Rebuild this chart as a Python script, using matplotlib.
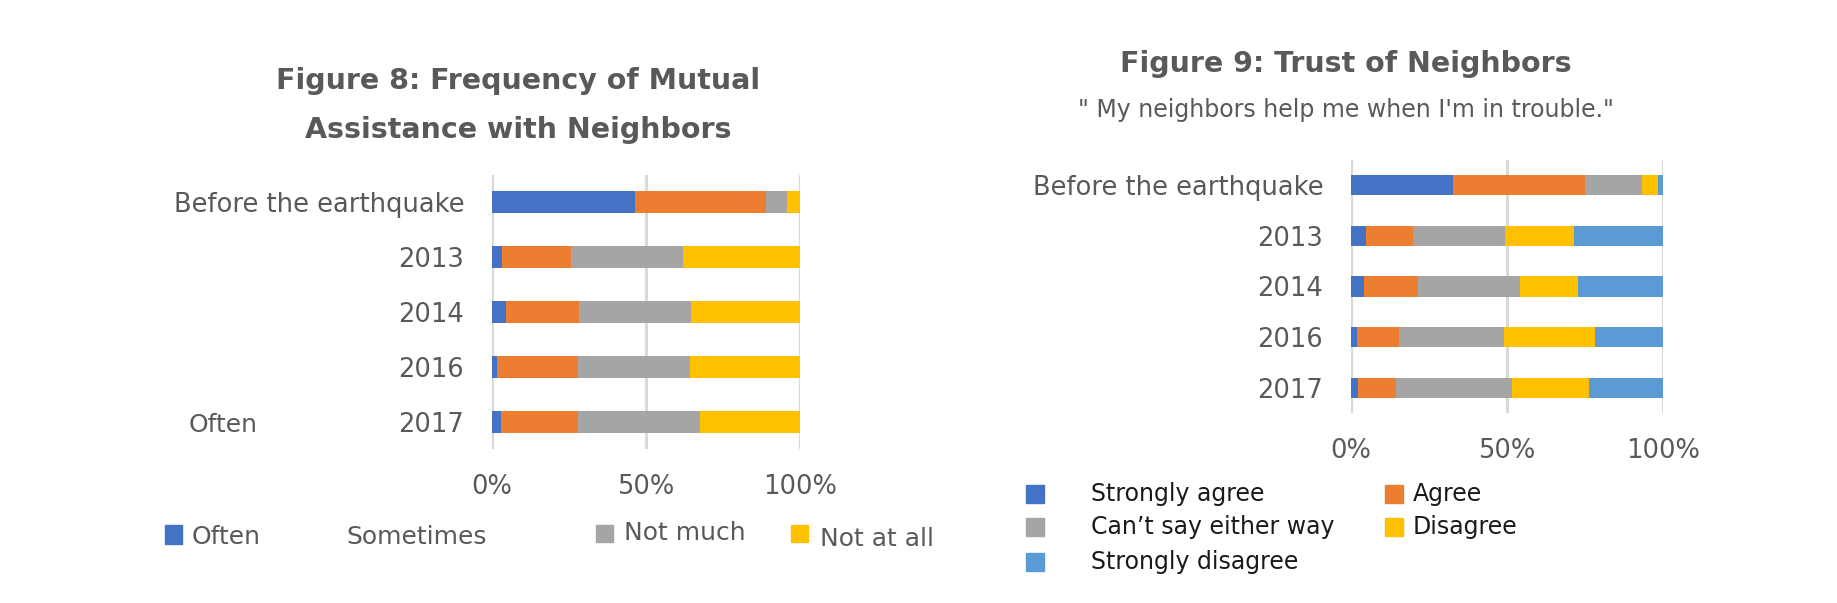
import matplotlib
matplotlib.use("Agg")
import matplotlib.pyplot as plt
from matplotlib.patches import Rectangle

W, H = 1837, 603

# data
years = ["Before the earthquake", "2013", "2014", "2016", "2017"]

# Figure 8
often = [46.3, 3.1, 4.4, 1.7, 2.8]
sometimes = [42.7, 22.4, 23.7, 26.1, 25.0]
not_much = [6.8, 36.6, 36.4, 36.5, 39.7]
not_at_all = [4.2, 37.9, 35.5, 35.7, 32.5]
fig8_names = ["Often", "Sometimes", "Not much", "Not at all"]

# Figure 9
strongly_agree = [32.6, 4.9, 4.3, 1.9, 2.2]
agree = [42.4, 15.1, 17.1, 13.6, 12.1]
cant_say = [18.4, 29.5, 32.8, 33.5, 37.3]
disagree = [4.9, 21.9, 18.6, 29.2, 24.7]
strongly_disagree = [1.7, 28.6, 27.2, 21.8, 23.7]
fig9_names = ["Strongly agree", "Agree", "Can\u2019t say either way", "Disagree",
              "Strongly disagree"]

colors = ["#4472C4", "#ED7D31", "#A5A5A5", "#FFC000", "#5B9BD5"]
txt = "#595959"

plt.rcParams['font.family'] = ['DejaVu Sans']


def box(x0, x1, top, bottom):
    return [x0 / W, 1 - bottom / H, (x1 - x0) / W, (bottom - top) / H]


def fx(x):
    return x / W


def fy(y):
    return 1 - y / H


def stacked(ax, series):
    left = [0] * len(years)
    pos = list(range(len(years)))
    for vals, c in zip(series, colors):
        ax.barh(pos, vals, left=left, height=0.4, color=c, zorder=2)
        left = [a + b for a, b in zip(left, vals)]
    ax.set_xlim(0, 100)
    ax.set_ylim(4.5, -0.5)
    ax.set_yticks(pos)
    ax.set_yticklabels(years, fontsize=18.5, color=txt)
    ax.set_xticks([0, 50, 100])
    ax.set_xticklabels(["0%", "50%", "100%"], fontsize=18.5, color=txt)
    ax.tick_params(axis="y", length=0, pad=20)
    ax.tick_params(axis="x", length=0, pad=18)
    for s in ax.spines.values():
        s.set_visible(False)
    ax.grid(axis="x", color="#D9D9D9", linewidth=2.2, zorder=0)
    ax.set_axisbelow(True)


fig = plt.figure(figsize=(W / 100, H / 100), dpi=100)

# ---- Figure 8
ax1 = fig.add_axes(box(492, 800, 175, 449))
stacked(ax1, [often, sometimes, not_much, not_at_all])
fig.text(fx(518), fy(81), "Figure 8: Frequency of Mutual", ha="center", va="center",
         fontsize=20.5, fontweight="bold", color=txt)
fig.text(fx(518), fy(130), "Assistance with Neighbors", ha="center", va="center",
         fontsize=20.5, fontweight="bold", color=txt)
fig.text(fx(189), fy(425), "Often", ha="left", va="center", fontsize=18, color=txt)

# legend of figure 8 (irregular, as in the original)
fig.patches.append(Rectangle((fx(165), fy(544)), 17 / W, 19 / H, color=colors[0],
                             transform=fig.transFigure, figure=fig))
fig.text(fx(192), fy(537), fig8_names[0], va="center", fontsize=18, color=txt)
fig.text(fx(346), fy(537), fig8_names[1], va="center", fontsize=18, color=txt)
fig.patches.append(Rectangle((fx(596), fy(542)), 17 / W, 17 / H, color=colors[2],
                             transform=fig.transFigure, figure=fig))
fig.text(fx(624), fy(533), fig8_names[2], va="center", fontsize=18, color=txt)
fig.patches.append(Rectangle((fx(791), fy(542)), 17 / W, 17 / H, color=colors[3],
                             transform=fig.transFigure, figure=fig))
fig.text(fx(820), fy(539), fig8_names[3], va="center", fontsize=18, color=txt)

# ---- Figure 9
ax2 = fig.add_axes(box(1351, 1663, 160, 413))
stacked(ax2, [strongly_agree, agree, cant_say, disagree, strongly_disagree])
fig.text(fx(1346), fy(64), "Figure 9: Trust of Neighbors", ha="center", va="center",
         fontsize=20.5, fontweight="bold", color=txt)
fig.text(fx(1346), fy(110), "\" My neighbors help me when I'm in trouble.\"",
         ha="center", va="center", fontsize=17, color=txt)

rows = [494, 494, 527, 527, 562]
mx = [1026, 1385, 1026, 1385, 1026]
tx = [1091, 1413, 1091, 1413, 1091]
for name, c, r, m, t in zip(fig9_names, colors, rows, mx, tx):
    fig.patches.append(Rectangle((fx(m), fy(r + 9)), 18 / W, 18 / H, color=c,
                                 transform=fig.transFigure, figure=fig))
    fig.text(fx(t), fy(r), name, va="center", fontsize=17, color="#1a1a1a")

fig.savefig("out.png", dpi=100, facecolor="white")
